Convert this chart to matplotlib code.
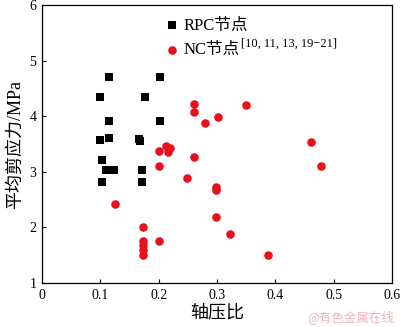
import numpy as np
import matplotlib
matplotlib.use('Agg')
import matplotlib.pyplot as plt

plt.rcParams['font.family'] = ['Liberation Serif', 'Noto Sans CJK SC']
plt.rcParams['axes.unicode_minus'] = False

" DATA "

rpc_x = [0.100, 0.115, 0.177, 0.203, 0.115, 0.203, 0.100, 0.115, 0.166, 0.168,
         0.103, 0.109, 0.123, 0.102, 0.172, 0.171]
rpc_y = [4.35, 4.70, 4.35, 4.70, 3.92, 3.92, 3.57, 3.60, 3.59, 3.56,
         3.22, 3.04, 3.04, 2.82, 3.04, 2.82]

nc_x = [0.260, 0.260, 0.301, 0.279, 0.349, 0.200, 0.213, 0.220, 0.216, 0.260,
        0.201, 0.461, 0.478, 0.249, 0.298, 0.299, 0.125, 0.299, 0.323, 0.173,
        0.173, 0.173, 0.173, 0.173, 0.201, 0.387]
nc_y = [4.22, 4.08, 3.99, 3.87, 4.21, 3.37, 3.46, 3.42, 3.36, 3.27,
        3.11, 3.54, 3.11, 2.89, 2.72, 2.68, 2.42, 2.18, 1.89, 2.01,
        1.76, 1.68, 1.59, 1.50, 1.76, 1.50]

xticks = [0, 0.1, 0.2, 0.3, 0.4, 0.5, 0.6]
xtick_labels = ['0', '0.1', '0.2', '0.3', '0.4', '0.5', '0.6']
yticks = [1, 2, 3, 4, 5, 6]

fig = plt.figure(figsize=(4.0, 3.27), dpi=100)
ax = fig.add_axes([0.105, 0.1346, 0.875, 0.850])

ax.scatter(rpc_x, rpc_y, marker='s', s=26, color='black', linewidths=0, label='RPC节点', zorder=3)
ax.scatter(nc_x, nc_y, marker='o', s=38, color='#e8111b', linewidths=0, label='NC节点', zorder=3)

ax.set_xlim(0, 0.6)
ax.set_ylim(1, 6)
ax.set_xticks(xticks)
ax.set_xticklabels(xtick_labels)
ax.set_yticks(yticks)
ax.tick_params(direction='in', labelsize=10, length=3, width=0.8, pad=4)
for sp in ax.spines.values():
    sp.set_linewidth(0.9)

ax.set_xlabel('轴压比', fontsize=13, labelpad=2)
ax.set_ylabel('平均剪应力/MPa', fontsize=13, labelpad=4)

leg = ax.legend(loc='upper left', bbox_to_anchor=(0.329, 0.978), frameon=False,
                fontsize=12, handlelength=1.0, handletextpad=0.2,
                labelspacing=0.5, borderaxespad=0.0, scatterpoints=1)

# superscript reference after the NC label
fig.canvas.draw()
bb = leg.get_texts()[1].get_window_extent().transformed(fig.transFigure.inverted())
fig.text(bb.x1 + 0.003, bb.y1 + 0.012, '[10, 11, 13, 19\u221221]',
         ha='left', va='top', fontsize=9)

fig.text(0.985, 0.01, '@有色金属在线', color='#f2b5b5', fontsize=9,
         ha='right', va='bottom', family=['Noto Sans CJK SC'])

plt.savefig('out.png', dpi=100)
